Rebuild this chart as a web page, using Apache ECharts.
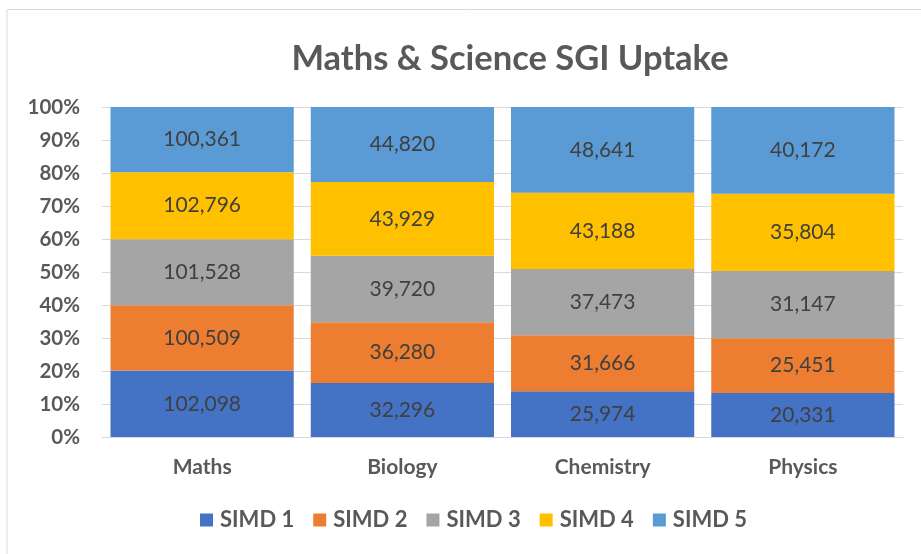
<!DOCTYPE html>
<html><head><meta charset="utf-8">
<script src="https://cdn.jsdelivr.net/npm/echarts@6/dist/echarts.min.js"></script>
<style>html,body{margin:0;padding:0;background:#fff}#c{width:921px;height:554px}</style>
</head><body><div id="c"></div>
<script>
const categories = ['Maths', 'Biology', 'Chemistry', 'Physics'];
const seriesNames = ['SIMD 1', 'SIMD 2', 'SIMD 3', 'SIMD 4', 'SIMD 5'];
const simd1 = [102098, 32296, 25974, 20331];
const simd2 = [100509, 36280, 31666, 25451];
const simd3 = [101528, 39720, 37473, 31147];
const simd4 = [102796, 43929, 43188, 35804];
const simd5 = [100361, 44820, 48641, 40172];
const colors = ['#4472C4', '#ED7D31', '#A5A5A5', '#FFC000', '#5B9BD5'];

const raw = [simd1, simd2, simd3, simd4, simd5];
const totals = categories.map((_, i) => raw.reduce((s, a) => s + a[i], 0));
const font = 'Lato, "Open Sans", sans-serif';

const chart = echarts.init(document.getElementById('c'));
chart.setOption({
  animation: false,
  title: {
    text: 'Maths & Science SGI Uptake',
    left: 505, top: 36, textAlign: 'center',
    textStyle: {fontFamily: font, fontSize: 34.5, fontWeight: 'bold', color: '#595959'}
  },
  graphic: [{
    type: 'polyline', silent: true,
    shape: {points: [[7, 560], [7, 9.5], [925, 9.5]]},
    style: {stroke: '#D9D9D9', lineWidth: 1, fill: null}
  }],
  legend: {
    data: seriesNames, bottom: 18, left: 195,
    itemWidth: 13, itemHeight: 13, itemGap: 19, icon: 'rect',
    textStyle: {fontFamily: font, fontSize: 22, fontWeight: 'bold', color: '#595959', padding: [0, 0, 0, 2]}
  },
  grid: {left: 102, right: 18, top: 107, bottom: 117, containLabel: false},
  xAxis: {
    type: 'category', data: categories,
    axisLine: {lineStyle: {color: '#D9D9D9', width: 1}},
    axisTick: {show: false},
    axisLabel: {margin: 20, fontFamily: font, fontSize: 21, fontWeight: 'bold', color: '#595959'}
  },
  yAxis: {
    type: 'value', min: 0, max: 100, interval: 10,
    axisLine: {show: false}, axisTick: {show: false},
    splitLine: {lineStyle: {color: '#D9D9D9', width: 1}},
    axisLabel: {margin: 22, formatter: '{value}%', fontFamily: font, fontSize: 20.5, fontWeight: 'bold', color: '#595959'}
  },
  series: raw.map((arr, si) => ({
    name: seriesNames[si], type: 'bar', stack: 'total',
    barCategoryGap: '8.5%',
    itemStyle: {color: colors[si]},
    label: {
      show: true, position: 'inside',
      fontFamily: font, fontSize: 21, color: '#404040',
      formatter: p => arr[p.dataIndex].toLocaleString('en-US')
    },
    data: arr.map((v, i) => v / totals[i] * 100)
  }))
});
</script></body></html>
